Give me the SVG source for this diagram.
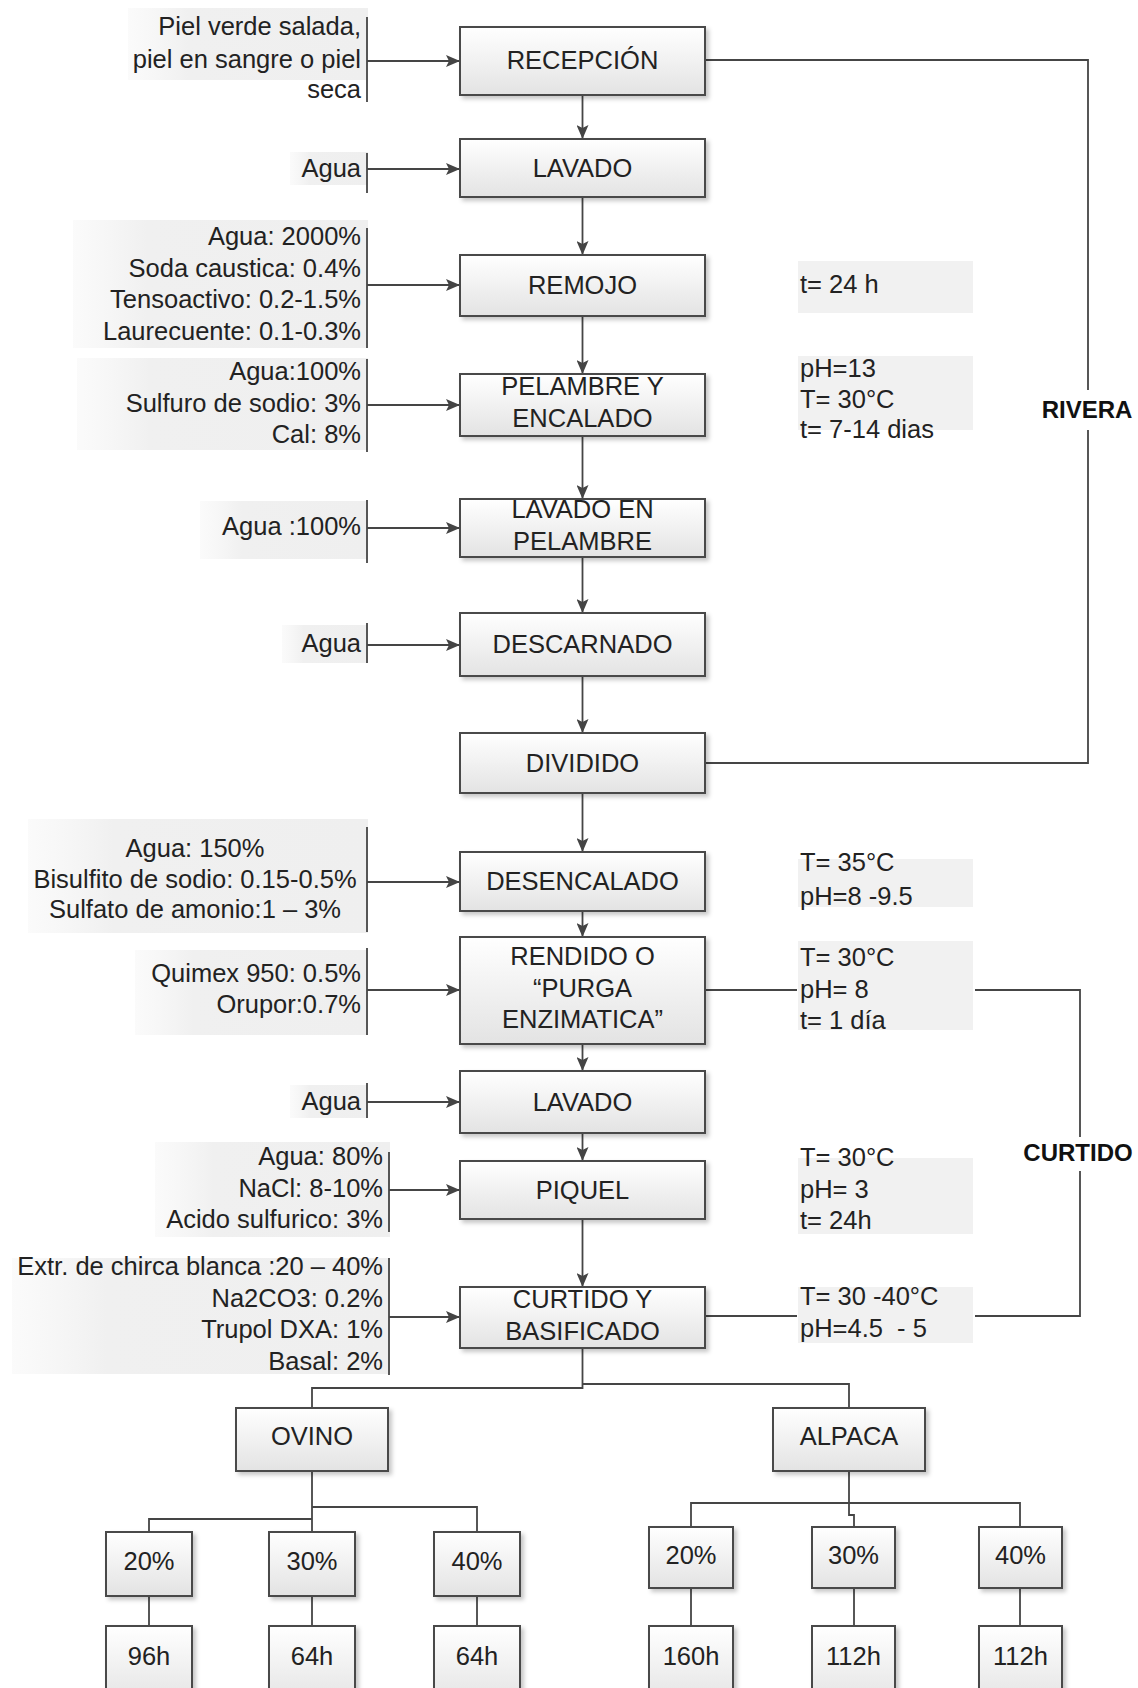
<svg xmlns="http://www.w3.org/2000/svg" width="1138" height="1688" viewBox="0 0 1138 1688">
<defs>
<linearGradient id="g" x1="0" y1="0" x2="0" y2="1"><stop offset="0" stop-color="#ffffff"/><stop offset="1" stop-color="#e3e3e3"/></linearGradient>
<linearGradient id="bgg" x1="0" y1="0" x2="1" y2="0"><stop offset="0" stop-color="#f4f4f4" stop-opacity="0.4"/><stop offset="0.25" stop-color="#f0f0f0"/><stop offset="1" stop-color="#efefef"/></linearGradient>
<filter id="sh" x="-10%" y="-10%" width="125%" height="135%"><feDropShadow dx="3" dy="3" stdDeviation="2" flood-color="#000" flood-opacity="0.22"/></filter>
<marker id="ah" markerWidth="14" markerHeight="12" refX="14" refY="6" orient="auto" markerUnits="userSpaceOnUse"><path d="M0,0 L14,6 L0,12 L3,6 z" fill="#444"/></marker>
</defs>
<style>
.box{fill:url(#g);stroke:#4a4a4a;stroke-width:2;filter:url(#sh)}
.t{font-family:"Liberation Sans",Arial,sans-serif;font-size:25.5px;fill:#222}
.c{text-anchor:middle}
.r{text-anchor:end}
.ln{stroke:#454545;stroke-width:1.8;fill:none}
.arr{marker-end:url(#ah)}
.bar{stroke:#454545;stroke-width:1.8}
.bg{fill:url(#bgg)}
.bgr{fill:#f1f1f1}
.lbl{font-weight:bold;font-size:24px;fill:#111}
</style>
<rect width="1138" height="1688" fill="#ffffff"/>

<!-- background patches -->
<g id="patches">
<rect class="bg" x="128" y="8" width="240" height="72"/>
<rect class="bg" x="290" y="152" width="78" height="33"/>
<rect class="bg" x="73" y="220" width="295" height="128"/>
<rect class="bg" x="77" y="358" width="291" height="92"/>
<rect class="bg" x="200" y="501" width="168" height="58"/>
<rect class="bg" x="282" y="625" width="86" height="38"/>
<rect class="bg" x="28" y="819" width="340" height="114"/>
<rect class="bg" x="135" y="950" width="233" height="85"/>
<rect class="bg" x="290" y="1085" width="78" height="33"/>
<rect class="bg" x="155" y="1142" width="235" height="95"/>
<rect class="bg" x="12" y="1258" width="378" height="116"/>
<rect class="bgr" x="798" y="261" width="175" height="52"/>
<rect class="bgr" x="798" y="356" width="175" height="74"/>
<rect class="bgr" x="798" y="859" width="175" height="48"/>
<rect class="bgr" x="798" y="941" width="175" height="89"/>
<rect class="bgr" x="798" y="1158" width="175" height="76"/>
<rect class="bgr" x="798" y="1287" width="175" height="56"/>
</g>

<g id="connectors">
<line class="ln arr" x1="582.5" y1="95" x2="582.5" y2="139"/>
<line class="ln arr" x1="582.5" y1="197" x2="582.5" y2="255"/>
<line class="ln arr" x1="582.5" y1="316" x2="582.5" y2="374"/>
<line class="ln arr" x1="582.5" y1="436" x2="582.5" y2="499"/>
<line class="ln arr" x1="582.5" y1="557" x2="582.5" y2="613"/>
<line class="ln arr" x1="582.5" y1="676" x2="582.5" y2="733"/>
<line class="ln arr" x1="582.5" y1="793" x2="582.5" y2="852"/>
<line class="ln arr" x1="582.5" y1="911" x2="582.5" y2="937"/>
<line class="ln arr" x1="582.5" y1="1044" x2="582.5" y2="1071"/>
<line class="ln arr" x1="582.5" y1="1133" x2="582.5" y2="1161"/>
<line class="ln arr" x1="582.5" y1="1219" x2="582.5" y2="1287"/>
<line class="ln arr" x1="367" y1="61" x2="460" y2="61"/>
<line class="ln arr" x1="367" y1="169" x2="460" y2="169"/>
<line class="ln arr" x1="367" y1="285" x2="460" y2="285"/>
<line class="ln arr" x1="367" y1="405" x2="460" y2="405"/>
<line class="ln arr" x1="367" y1="528" x2="460" y2="528"/>
<line class="ln arr" x1="367" y1="645" x2="460" y2="645"/>
<line class="ln arr" x1="367" y1="882" x2="460" y2="882"/>
<line class="ln arr" x1="367" y1="990" x2="460" y2="990"/>
<line class="ln arr" x1="367" y1="1102" x2="460" y2="1102"/>
<line class="ln arr" x1="389" y1="1190" x2="460" y2="1190"/>
<line class="ln arr" x1="389" y1="1317" x2="460" y2="1317"/>
<polyline class="ln" points="705,60 1088,60 1088,763 705,763"/>
<polyline class="ln" points="705,990 797,990"/>
<polyline class="ln" points="975,990 1080,990 1080,1316 975,1316"/>
<polyline class="ln" points="797,1316 705,1316"/>
<polyline class="ln" points="582.5,1348 582.5,1388 312,1388 312,1408"/>
<polyline class="ln" points="582.5,1384 849,1384 849,1408"/>
<line class="ln" x1="312" y1="1471" x2="312" y2="1532"/>
<polyline class="ln" points="312,1507 477,1507 477,1532"/>
<polyline class="ln" points="312,1519 149,1519 149,1532"/>
<line class="ln" x1="149" y1="1596" x2="149" y2="1626"/>
<line class="ln" x1="312" y1="1596" x2="312" y2="1626"/>
<line class="ln" x1="477" y1="1596" x2="477" y2="1626"/>
<polyline class="ln" points="849,1471 849,1515 854,1515 854,1527"/>
<polyline class="ln" points="691,1527 691,1503 1020,1503 1020,1527"/>
<line class="ln" x1="691" y1="1588" x2="691" y2="1626"/>
<line class="ln" x1="854" y1="1588" x2="854" y2="1626"/>
<line class="ln" x1="1020" y1="1588" x2="1020" y2="1626"/>
</g>

<g id="section-labels">
<rect x="1038" y="390" width="98" height="40" fill="#ffffff"/>
<text class="t lbl c" x="1087" y="418">RIVERA</text>
<rect x="1018" y="1137" width="120" height="34" fill="#ffffff"/>
<text class="t lbl c" x="1078" y="1161">CURTIDO</text>
</g>

<g id="in-recepcion">
<line class="bar" x1="367" y1="17" x2="367" y2="102"/>
<text class="t r" x="361" y="35">Piel verde salada,</text>
<text class="t r" x="361" y="68">piel en sangre o piel</text>
<text class="t r" x="361" y="98">seca</text>
</g>
<g id="in-lavado">
<line class="bar" x1="367" y1="153" x2="367" y2="193"/>
<text class="t r" x="361" y="177">Agua</text>
</g>
<g id="in-remojo">
<line class="bar" x1="367" y1="228" x2="367" y2="348"/>
<text class="t r" x="361" y="245">Agua: 2000%</text>
<text class="t r" x="361" y="277">Soda caustica: 0.4%</text>
<text class="t r" x="361" y="308">Tensoactivo: 0.2-1.5%</text>
<text class="t r" x="361" y="340">Laurecuente: 0.1-0.3%</text>
</g>
<g id="in-pelambre">
<line class="bar" x1="367" y1="359" x2="367" y2="452"/>
<text class="t r" x="361" y="380">Agua:100%</text>
<text class="t r" x="361" y="412">Sulfuro de sodio: 3%</text>
<text class="t r" x="361" y="443">Cal: 8%</text>
</g>
<g id="in-lavado-pelambre">
<line class="bar" x1="367" y1="500" x2="367" y2="563"/>
<text class="t r" x="361" y="535">Agua :100%</text>
</g>
<g id="in-descarnado">
<line class="bar" x1="367" y1="623" x2="367" y2="663"/>
<text class="t r" x="361" y="652">Agua</text>
</g>
<g id="in-desencalado">
<line class="bar" x1="367" y1="827" x2="367" y2="932"/>
<text class="t c" x="195" y="857">Agua: 150%</text>
<text class="t c" x="195" y="888">Bisulfito de sodio: 0.15-0.5%</text>
<text class="t c" x="195" y="918">Sulfato de amonio:1 – 3%</text>
</g>
<g id="in-rendido">
<line class="bar" x1="367" y1="948" x2="367" y2="1035"/>
<text class="t r" x="361" y="982">Quimex 950: 0.5%</text>
<text class="t r" x="361" y="1013">Orupor:0.7%</text>
</g>
<g id="in-lavado2">
<line class="bar" x1="367" y1="1083" x2="367" y2="1118"/>
<text class="t r" x="361" y="1110">Agua</text>
</g>
<g id="in-piquel">
<line class="bar" x1="389" y1="1152" x2="389" y2="1232"/>
<text class="t r" x="383" y="1165">Agua: 80%</text>
<text class="t r" x="383" y="1197">NaCl: 8-10%</text>
<text class="t r" x="383" y="1228">Acido sulfurico: 3%</text>
</g>
<g id="in-curtido">
<line class="bar" x1="389" y1="1258" x2="389" y2="1375"/>
<text class="t r" x="383" y="1275">Extr. de chirca blanca :20 – 40%</text>
<text class="t r" x="383" y="1307">Na2CO3: 0.2%</text>
<text class="t r" x="383" y="1338">Trupol DXA: 1%</text>
<text class="t r" x="383" y="1370">Basal: 2%</text>
</g>

<g id="out-remojo"><text class="t" x="800" y="293">t= 24 h</text></g>
<g id="out-pelambre">
<text class="t" x="800" y="377">pH=13</text>
<text class="t" x="800" y="408">T= 30°C</text>
<text class="t" x="800" y="438">t= 7-14 dias</text>
</g>
<g id="out-desencalado">
<text class="t" x="800" y="871">T= 35°C</text>
<text class="t" x="800" y="905">pH=8 -9.5</text>
</g>
<g id="out-rendido">
<text class="t" x="800" y="966">T= 30°C</text>
<text class="t" x="800" y="998">pH= 8</text>
<text class="t" x="800" y="1029">t= 1 día</text>
</g>
<g id="out-piquel">
<text class="t" x="800" y="1166">T= 30°C</text>
<text class="t" x="800" y="1198">pH= 3</text>
<text class="t" x="800" y="1229">t= 24h</text>
</g>
<g id="out-curtido">
<text class="t" x="800" y="1305">T= 30 -40°C</text>
<text class="t" x="800" y="1337" xml:space="preserve">pH=4.5  - 5</text>
</g>

<g id="recepcion"><rect class="box" x="460" y="27" width="245" height="68"/><text class="t c" x="582.5" y="69">RECEPCIÓN</text></g>
<g id="lavado"><rect class="box" x="460" y="139" width="245" height="58"/><text class="t c" x="582.5" y="177">LAVADO</text></g>
<g id="remojo"><rect class="box" x="460" y="255" width="245" height="61"/><text class="t c" x="582.5" y="294">REMOJO</text></g>
<g id="pelambre"><rect class="box" x="460" y="374" width="245" height="62"/><text class="t c" x="582.5" y="395">PELAMBRE Y</text><text class="t c" x="582.5" y="427">ENCALADO</text></g>
<g id="lavado-pelambre"><rect class="box" x="460" y="499" width="245" height="58"/><text class="t c" x="582.5" y="518">LAVADO EN</text><text class="t c" x="582.5" y="550">PELAMBRE</text></g>
<g id="descarnado"><rect class="box" x="460" y="613" width="245" height="63"/><text class="t c" x="582.5" y="653">DESCARNADO</text></g>
<g id="dividido"><rect class="box" x="460" y="733" width="245" height="60"/><text class="t c" x="582.5" y="772">DIVIDIDO</text></g>
<g id="desencalado"><rect class="box" x="460" y="852" width="245" height="59"/><text class="t c" x="582.5" y="890">DESENCALADO</text></g>
<g id="rendido"><rect class="box" x="460" y="937" width="245" height="107"/><text class="t c" x="582.5" y="965">RENDIDO O</text><text class="t c" x="582.5" y="997">“PURGA</text><text class="t c" x="582.5" y="1028">ENZIMATICA”</text></g>
<g id="lavado2"><rect class="box" x="460" y="1071" width="245" height="62"/><text class="t c" x="582.5" y="1111">LAVADO</text></g>
<g id="piquel"><rect class="box" x="460" y="1161" width="245" height="58"/><text class="t c" x="582.5" y="1199">PIQUEL</text></g>
<g id="curtido"><rect class="box" x="460" y="1287" width="245" height="61"/><text class="t c" x="582.5" y="1308">CURTIDO Y</text><text class="t c" x="582.5" y="1340">BASIFICADO</text></g>

<g id="ovino"><rect class="box" x="236" y="1408" width="152" height="63"/><text class="t c" x="312" y="1445">OVINO</text></g>
<g id="alpaca"><rect class="box" x="773" y="1408" width="152" height="63"/><text class="t c" x="849" y="1445">ALPACA</text></g>

<g id="ovino-20"><rect class="box" x="106" y="1532" width="86" height="64"/><text class="t c" x="149" y="1570">20%</text></g>
<g id="ovino-30"><rect class="box" x="269" y="1532" width="86" height="64"/><text class="t c" x="312" y="1570">30%</text></g>
<g id="ovino-40"><rect class="box" x="434" y="1532" width="86" height="64"/><text class="t c" x="477" y="1570">40%</text></g>
<g id="ovino-96h"><rect class="box" x="106" y="1626" width="86" height="80"/><text class="t c" x="149" y="1665">96h</text></g>
<g id="ovino-64h-a"><rect class="box" x="269" y="1626" width="86" height="80"/><text class="t c" x="312" y="1665">64h</text></g>
<g id="ovino-64h-b"><rect class="box" x="434" y="1626" width="86" height="80"/><text class="t c" x="477" y="1665">64h</text></g>

<g id="alpaca-20"><rect class="box" x="649" y="1527" width="84" height="61"/><text class="t c" x="691" y="1564">20%</text></g>
<g id="alpaca-30"><rect class="box" x="812" y="1527" width="83" height="61"/><text class="t c" x="853.5" y="1564">30%</text></g>
<g id="alpaca-40"><rect class="box" x="979" y="1527" width="83" height="61"/><text class="t c" x="1020.5" y="1564">40%</text></g>
<g id="alpaca-160h"><rect class="box" x="649" y="1626" width="84" height="80"/><text class="t c" x="691" y="1665">160h</text></g>
<g id="alpaca-112h-a"><rect class="box" x="812" y="1626" width="83" height="80"/><text class="t c" x="853.5" y="1665">112h</text></g>
<g id="alpaca-112h-b"><rect class="box" x="979" y="1626" width="83" height="80"/><text class="t c" x="1020.5" y="1665">112h</text></g>
</svg>
